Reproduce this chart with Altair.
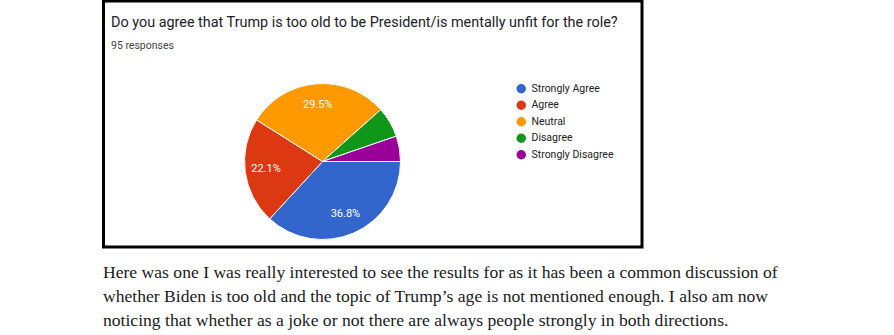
import math
import altair as alt
import pandas as pd

# ---- data ----
categories = ["Strongly Agree", "Agree", "Neutral", "Disagree", "Strongly Disagree"]
counts = [35, 21, 28, 6, 5]
colors = ["#3366cc", "#dc3912", "#ff9900", "#109618", "#990099"]

title_text = "Do you agree that Trump is too old to be President/is mentally unfit for the role?"
subtitle_text = "95 responses"
paragraph_lines = [
    "Here was one I was really interested to see the results for as it has been a common discussion of",
    "whether Biden is too old and the topic of Trump\u2019s age is not mentioned enough. I also am now",
    "noticing that whether as a joke or not there are always people strongly in both directions.",
]

total = sum(counts)
labels = [f"{c / total * 100:.1f}%" if c / total >= 0.1 else "" for c in counts]
df = pd.DataFrame({
    "category": categories,
    "count": counts,
    "idx": list(range(len(categories))),
    "label": labels,
})

CX, CY, R = 322.5, 161.5, 78
theta_scale = alt.Scale(range=[math.pi / 2, math.pi / 2 + 2 * math.pi])
color_scale = alt.Scale(domain=categories, range=colors)

base = alt.Chart(df)

pie = base.mark_arc(stroke="white", strokeWidth=1, outerRadius=R).encode(
    theta=alt.Theta("count:Q", stack=True, scale=theta_scale),
    color=alt.Color(
        "category:N",
        scale=color_scale,
        sort=categories,
        legend=alt.Legend(
            title=None,
            orient="none",
            legendX=516,
            legendY=83.5,
            symbolType="circle",
            symbolSize=90,
            symbolStrokeWidth=0,
            labelFont="Roboto",
            labelFontSize=10.5,
            labelColor="#222222",
            labelOffset=5,
            rowPadding=5.5,
        ),
    ),
    order=alt.Order("idx:Q"),
    x=alt.value(CX),
    y=alt.value(CY),
)

pct = base.mark_text(
    radius=57, font="Roboto", fontSize=11, color="white"
).encode(
    theta=alt.Theta("count:Q", stack=True, scale=theta_scale),
    order=alt.Order("idx:Q"),
    text="label:N",
    x=alt.value(CX),
    y=alt.value(CY),
)

frame_df = pd.DataFrame({"k": [0]})
frame = alt.Chart(frame_df).mark_rect(
    filled=False, stroke="black", strokeWidth=3
).encode(
    x=alt.value(103.5), x2=alt.value(642), y=alt.value(1), y2=alt.value(247)
)

title = alt.Chart(pd.DataFrame({"t": [title_text]})).mark_text(
    align="left", baseline="alphabetic", font="Roboto", fontSize=14.4, color="#202124"
).encode(text="t:N", x=alt.value(111), y=alt.value(27))

subtitle = alt.Chart(pd.DataFrame({"t": [subtitle_text]})).mark_text(
    align="left", baseline="alphabetic", font="Roboto", fontSize=10.5, color="#444444"
).encode(text="t:N", x=alt.value(111), y=alt.value(49))

para = alt.Chart(pd.DataFrame({"t": ["\n".join(paragraph_lines)]})).mark_text(
    align="left", baseline="alphabetic", font="Liberation Serif", fontSize=17.6,
    color="#1a1a1a", lineBreak="\n", lineHeight=24.2
).encode(text="t:N", x=alt.value(103), y=alt.value(278))

chart = alt.layer(frame, pie, pct, title, subtitle, para).properties(
    width=894, height=335, padding=0, autosize=alt.AutoSizeParams(type="none"),
    background="white",
).configure_view(stroke=None)

chart.save("out.html", embed_options={"renderer": "svg", "actions": False})
